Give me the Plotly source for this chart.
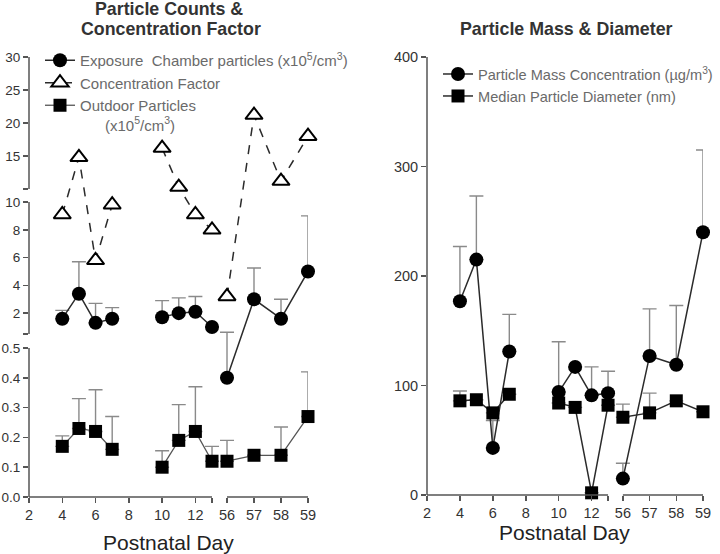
import plotly.graph_objects as go

# ---------------- data ----------------
days = [4, 5, 6, 7, 10, 11, 12, 13, 56, 57, 58, 59]

exposure = [1.6, 3.4, 1.3, 1.6, 1.7, 2.0, 2.1, 1.0, 0.4, 3.0, 1.6, 5.0]
exposure_sd = [0.6, 2.3, 1.4, 0.8, 1.2, 1.1, 1.1, None, 0.22, 2.25, 1.4, 4.0]

conc_factor = [9.1, 14.8, 5.8, 9.8, 16.2, 10.3, 9.1, 8.0, 3.2, 21.2, 11.2, 18.0]

outdoor = [0.17, 0.23, 0.22, 0.16, 0.10, 0.19, 0.22, 0.12, 0.12, 0.14, 0.14, 0.27]
outdoor_sd = [0.035, 0.10, 0.14, 0.11, 0.055, 0.12, 0.15, 0.05, 0.07, None, 0.095, 0.15]

mass = [177, 215, 43, 131, 94, 117, 91, 93, 15, 127, 119, 240]
mass_sd = [50, 58, 25, 34, 46, None, 26, 20, 14, 43, 54, 75]

diameter = [86, 87, 75, 92, 84, 80, 2, 82, 71, 75, 86, 76]
diameter_sd = [9, None, None, None, None, None, None, None, 12, 18, None, None]

x_ticks_seg1 = [2, 4, 6, 8, 10, 12]
x_ticks_seg2 = [56, 57, 58, 59]
yl_ticks_bottom = [0.0, 0.1, 0.2, 0.3, 0.4, 0.5]
yl_ticks_mid = [2, 4, 6, 8, 10]
yl_ticks_top = [15, 20, 25, 30]
yr_ticks = [0, 100, 200, 300, 400]

# ---------------- broken-axis scales (layout) ----------------
W, H = 720, 554
X_SEGS = [(2, 13, 0.0, 0.656), (56, 59, 0.7097, 1.0)]
YL_SEGS = [(0, 0.5, 0.0, 0.3386), (0.5, 10, 0.3705, 0.6705), (10, 30, 0.70, 1.0)]


def seg_map(v, segs):
    if v is None:
        return None
    for lo, hi, a, b in segs:
        if lo <= v <= hi:
            return a + (v - lo) / (hi - lo) * (b - a)
    best = min(segs, key=lambda s: min(abs(v - s[0]), abs(v - s[1])))
    lo, hi, a, b = best
    return a + (v - lo) / (hi - lo) * (b - a)


def in_seg(v, seg):
    lo, hi, a, b = seg
    return a + (v - lo) / (hi - lo) * (b - a)


def build(xs, ys, sds, yseg):
    """Return mapped x, y, error lists with None between runs of consecutive days."""
    ox, oy, oe, om = [], [], [], []
    for i, (d, v) in enumerate(zip(xs, ys)):
        if i > 0 and d - xs[i - 1] > 1:
            ox.append(None); oy.append(None); oe.append(None); om.append(None)
        yy = seg_map(v, yseg) if yseg else v
        ox.append(seg_map(d, X_SEGS))
        oy.append(yy)
        sd = sds[i] if sds else None
        if sd is None:
            oe.append(None); om.append(None)
        else:
            top = seg_map(v + sd, yseg) if yseg else v + sd
            oe.append(top - yy); om.append(0)
    return ox, oy, oe, om


FONT = "Liberation Sans, Arial, sans-serif"
LINE_C = "#2b2b2b"
ERR_C = "#8a8a8a"

fig = go.Figure()


def add(xs, ys, sds, yseg, name, symbol, mcolor, mline, size, dash, axes, legend, lwidth=1.5, lcolor=LINE_C):
    ox, oy, oe, om = build(xs, ys, sds, yseg)
    err = None
    if sds:
        err = dict(type="data", symmetric=False, array=oe, arrayminus=om,
                   color=ERR_C, thickness=1.4, width=7)
    fig.add_trace(go.Scatter(
        x=ox, y=oy, name=name, mode="lines+markers", connectgaps=False,
        xaxis=axes[0], yaxis=axes[1], legend=legend, cliponaxis=False,
        line=dict(color=lcolor, width=lwidth, dash=dash),
        marker=dict(symbol=symbol, size=size, color=mcolor,
                    line=dict(color="black", width=mline)),
        error_y=err,
    ))


sup5 = "x10<sup>5</sup>/cm<sup>3</sup>"
add(days, exposure, exposure_sd, YL_SEGS,
    "Exposure\u00a0\u00a0Chamber particles (" + sup5 + ")",
    "circle", "black", 0, 14, "solid", ("x", "y"), "legend")
add(days, conc_factor, None, YL_SEGS, "Concentration Factor",
    "triangle-up", "white", 2, 15, "dash", ("x", "y"), "legend")
add(days, outdoor, outdoor_sd, YL_SEGS,
    "Outdoor Particles<br>\u00a0\u00a0\u00a0\u00a0\u00a0\u00a0(" + sup5 + ")",
    "square", "black", 0, 13, "solid", ("x", "y"), "legend", lwidth=1.3, lcolor="#555")

add(days, mass, mass_sd, None, "Particle Mass Concentration (\u00b5g/m<sup>3</sup>)",
    "circle", "black", 0, 14, "solid", ("x2", "y2"), "legend2")
add(days, diameter, diameter_sd, None, "Median Particle Diameter (nm)",
    "square", "black", 0, 13, "solid", ("x2", "y2"), "legend2")

# ---------------- axes ----------------
xl_dom = [29 / W, 308 / W]
yl_dom = [(H - 497) / H, (H - 57) / H]
xr_dom = [427 / W, 703 / W]
yr_dom = [(H - 495) / H, (H - 57) / H]

x_tickvals = [in_seg(v, X_SEGS[0]) for v in x_ticks_seg1] + [in_seg(13, X_SEGS[0])] + \
             [in_seg(v, X_SEGS[1]) for v in x_ticks_seg2]
x_ticktext = [str(v) for v in x_ticks_seg1] + [""] + [str(v) for v in x_ticks_seg2]

yl_tickvals = [in_seg(v, YL_SEGS[0]) for v in yl_ticks_bottom] + [in_seg(0.5, YL_SEGS[1])] + \
              [in_seg(v, YL_SEGS[1]) for v in yl_ticks_mid] + [in_seg(10, YL_SEGS[2])] + \
              [in_seg(v, YL_SEGS[2]) for v in yl_ticks_top]
yl_ticktext = ["%.1f" % v for v in yl_ticks_bottom] + [""] + [str(v) for v in yl_ticks_mid] + \
              [""] + [str(v) for v in yl_ticks_top]

AX_C = "#555555"
common = dict(showgrid=False, zeroline=False, showline=False, ticks="outside",
              ticklen=5, tickwidth=1.5, tickcolor=AX_C, fixedrange=True, automargin=False)

fig.update_layout(
    template="none",
    xaxis=dict(domain=xl_dom, range=[0, 1], anchor="y", tickmode="array",
               tickvals=x_tickvals, ticktext=x_ticktext,
               tickfont=dict(family=FONT, size=14.5, color="#333"), **common),
    yaxis=dict(domain=yl_dom, range=[0, 1], anchor="x", tickmode="array",
               tickvals=yl_tickvals, ticktext=yl_ticktext,
               tickfont=dict(family=FONT, size=13.5, color="#333"), **common),
    xaxis2=dict(domain=xr_dom, range=[0, 1], anchor="y2", tickmode="array",
                tickvals=x_tickvals, ticktext=x_ticktext,
                tickfont=dict(family=FONT, size=14.5, color="#333"), **common),
    yaxis2=dict(domain=yr_dom, range=[0, 400], anchor="x2", tickmode="array",
                tickvals=yr_ticks, ticktext=[str(v) for v in yr_ticks],
                tickfont=dict(family=FONT, size=14.5, color="#333"), **common),
)

# broken axis lines as shapes
shapes = []
line_style = dict(color=AX_C, width=1.5)
for xd, yd in ((xl_dom, yl_dom), (xr_dom, yr_dom)):
    for _, _, a, b in X_SEGS:
        shapes.append(dict(type="line", xref="paper", yref="paper",
                           x0=xd[0] + a * (xd[1] - xd[0]), x1=xd[0] + b * (xd[1] - xd[0]),
                           y0=yd[0], y1=yd[0], line=line_style))
for _, _, a, b in YL_SEGS:
    shapes.append(dict(type="line", xref="paper", yref="paper",
                       x0=xl_dom[0], x1=xl_dom[0],
                       y0=yl_dom[0] + a * (yl_dom[1] - yl_dom[0]),
                       y1=yl_dom[0] + b * (yl_dom[1] - yl_dom[0]), line=line_style))
shapes.append(dict(type="line", xref="paper", yref="paper",
                   x0=xr_dom[0], x1=xr_dom[0], y0=yr_dom[0], y1=yr_dom[1], line=line_style))


def ann(text, cx, cy, size, color, bold=False):
    return dict(text=("<b>%s</b>" % text) if bold else text, x=cx / W, y=1 - cy / H,
                xref="paper", yref="paper", xanchor="center", yanchor="middle",
                showarrow=False, font=dict(family=FONT, size=size, color=color))


annotations = [
    ann("Particle Counts &", 169, 9, 17.8, "#333", True),
    ann("Concentration Factor", 171, 29, 17.8, "#333", True),
    ann("Particle Mass & Diameter", 566, 29, 17.8, "#333", True),
    ann("Postnatal Day", 168, 542, 21, "#222"),
    ann("Postnatal Day", 564, 532, 21, "#222"),
]

leg_common = dict(xanchor="left", yanchor="top", bgcolor="rgba(0,0,0,0)",
                  tracegroupgap=0, itemwidth=30, valign="top")
fig.update_layout(
    width=W, height=H, autosize=False,
    margin=dict(l=0, r=0, t=0, b=0, pad=0),
    paper_bgcolor="white", plot_bgcolor="white",
    showlegend=True,
    legend=dict(x=40 / W, y=1 - 44 / H,
                font=dict(family=FONT, size=15, color="#6a6a6a"), **leg_common),
    legend2=dict(x=438 / W, y=1 - 58 / H,
                 font=dict(family=FONT, size=14.6, color="#6a6a6a"), **leg_common),
    shapes=shapes, annotations=annotations,
)

fig.write_html(
    "out.html", config={"displayModeBar": False, "staticPlot": True},
    post_script="document.documentElement.style.overflow='hidden';"
                "document.body.style.margin='0';document.body.style.overflow='hidden';")
